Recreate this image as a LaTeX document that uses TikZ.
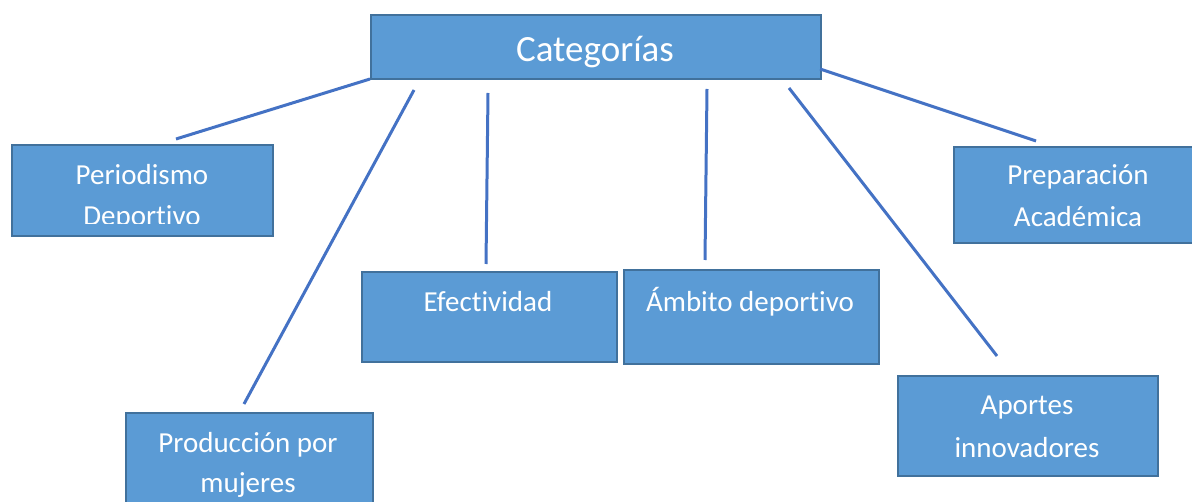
\documentclass[tikz,border=0pt]{standalone}
\usepackage{fontspec}
\setmainfont[Ligatures=NoCommon]{Carlito}
\definecolor{boxfill}{HTML}{5B9BD5}
\definecolor{boxline}{HTML}{41719C}
\definecolor{linecol}{HTML}{4472C4}
\begin{document}
\begin{tikzpicture}[x=1pt,y=-1pt,
  box/.style={draw=boxline, fill=boxfill, line width=2pt, anchor=north west, inner sep=0},
  lbl/.style={text=white, font=\fontsize{29}{40}\selectfont, anchor=base, inner sep=0},
  conn/.style={draw=linecol, line width=3pt}]
\useasboundingbox (0,0) rectangle (1192,502);
% boxes
\node[box, minimum width=450pt, minimum height=64pt] (cat) at (370,14) {};
\node[box, minimum width=261pt, minimum height=91pt] (per) at (11,144) {};
\node[box, minimum width=247pt, minimum height=100pt] (pro) at (125,412) {};
\node[box, minimum width=255pt, minimum height=90pt] (efe) at (361,271) {};
\node[box, minimum width=255pt, minimum height=94pt] (amb) at (623,269) {};
\node[box, minimum width=250pt, minimum height=96pt] (pre) at (953,146) {};
\node[box, minimum width=260pt, minimum height=100pt] (apo) at (897,375) {};
% labels
\node[lbl, font=\fontsize{37}{44}\selectfont] (tcat) at (595,62) {Categorías};
\begin{scope}
  \clip (12,145) rectangle (271,224);
  \node[lbl] (tper1) at (142,185) {Periodismo};
  \node[lbl] (tper2) at (142,226) {Deportivo};
\end{scope}
\node[lbl] (tpro1) at (248,453) {Producción por};
\node[lbl] (tpro2) at (248,493) {mujeres};
\node[lbl] (tefe) at (488,312) {Efectividad};
\node[lbl] (tamb) at (750,312) {Ámbito deportivo};
\node[lbl] (tpre1) at (1078,185) {Preparación};
\node[lbl] (tpre2) at (1078,227) {Académica};
\node[lbl] (tapo1) at (1027,415) {Aportes};
\node[lbl] (tapo2) at (1027,457) {innovadores};
% connector end points
\coordinate (c1) at (370,79);  \coordinate (e1) at (176,139);
\coordinate (c2) at (414,90);  \coordinate (e2) at (244,404);
\coordinate (c3) at (488,93);  \coordinate (e3) at (486,264);
\coordinate (c4) at (707,89);  \coordinate (e4) at (705,260);
\coordinate (c5) at (789,88);  \coordinate (e5) at (997,356);
\coordinate (c6) at (820,69);  \coordinate (e6) at (1036,141);
\draw[conn] (c1) -- (e1);
\draw[conn] (c2) -- (e2);
\draw[conn] (c3) -- (e3);
\draw[conn] (c4) -- (e4);
\draw[conn] (c5) -- (e5);
\draw[conn] (c6) -- (e6);
\end{tikzpicture}
\end{document}
